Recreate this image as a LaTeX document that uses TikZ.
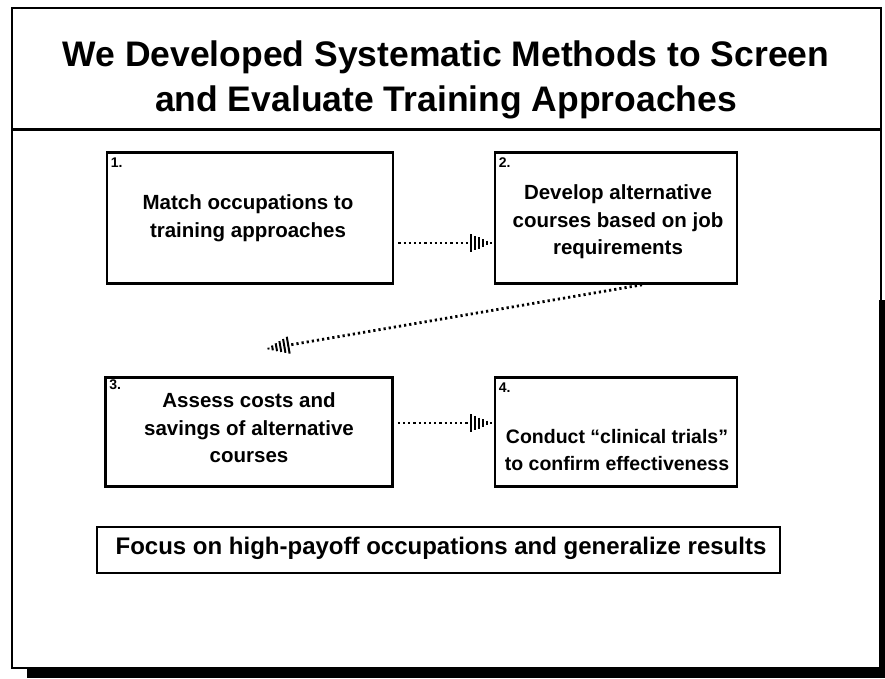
\documentclass[tikz,border=0pt]{standalone}
\usepackage{fontspec}
\setmainfont{Liberation Sans}
\usetikzlibrary{decorations.markings}
\tikzset{
  x=1pt, y=-1pt,
  stepbox/.style={draw, line width=2.6pt, inner sep=0pt},
  boxtext/.style={align=center, font=\fontsize{20.5}{27.5}\selectfont\bfseries},
  numlabel/.style={anchor=north west, inner sep=0pt, font=\fontsize{14}{14}\selectfont\bfseries},
  dotline/.style={line width=2.8pt, dash pattern=on 2.2pt off 3pt, shorten >=22pt},
  hatchtip/.style={decoration={markings, mark=at position 1 with {
      \foreach \k in {1,...,6}{
        \pgfmathsetmacro{\xx}{-4*\k+1.5}
        \pgfmathsetmacro{\hh}{0.38*(4*\k-1.5)}
        \draw[line width=2pt] (\xx pt,\hh pt) -- (\xx pt,-\hh pt);
      }}}, decorate}
}
\begin{document}
\begin{tikzpicture}
\useasboundingbox (0,0) rectangle (885,678);
% shadow
\fill (27,669) rectangle (885,678);
\fill (879,300) rectangle (885,678);
% outer frame
\draw[line width=2pt] (12,8) rectangle (881,668);
\draw[line width=3pt] (12,129) -- (881,129);
\node[font=\fontsize{35.5}{45}\selectfont\bfseries, align=center] (title) at (446,80)
  {We Developed Systematic Methods to Screen\\and Evaluate Training Approaches};
% boxes
\node[stepbox, minimum width=286pt, minimum height=131pt] (b1) at (250,218) {};
\node[stepbox, minimum width=242pt, minimum height=131pt] (b2) at (616,218) {};
\node[stepbox, minimum width=287pt, minimum height=109pt] (b3) at (249,432) {};
\node[stepbox, minimum width=242pt, minimum height=109pt] (b4) at (616,432) {};
\node[stepbox, minimum width=683pt, minimum height=46pt] (b5) at (438.5,550) {};
% numbers
\node[numlabel] (n1) at ([xshift=5pt,yshift=-6pt]b1.north west) {1.};
\node[numlabel] (n2) at ([xshift=5pt,yshift=-6pt]b2.north west) {2.};
\node[numlabel] (n3) at ([xshift=5pt,yshift=-3pt]b3.north west) {3.};
\node[numlabel] (n4) at ([xshift=5pt,yshift=-6pt]b4.north west) {4.};
% texts
\node[boxtext] (t1) at (248,218) {Match occupations to\\training approaches};
\node[boxtext] (t2) at (618,222) {Develop alternative\\courses based on job\\requirements};
\node[boxtext] (t3) at (249,428) {Assess costs and\\savings of alternative\\courses};
\node[boxtext, font=\fontsize{19.5}{27}\selectfont\bfseries] (t4) at (617,450) {Conduct “clinical trials”\\to confirm effectiveness};
\node[font=\fontsize{24}{26}\selectfont\bfseries] (t5) at (441,548) {Focus on high-payoff occupations and generalize results};
% connectors
\coordinate (c3) at (266,349);
\draw[dotline] ([xshift=4pt,yshift=-25pt]b1.east) -- ([yshift=-25pt]b2.west);
\path[hatchtip] ([xshift=4pt,yshift=-25pt]b1.east) -- ([yshift=-25pt]b2.west);
\draw[dotline] ([xshift=4pt,yshift=9pt]b3.east) -- ([yshift=9pt]b4.west);
\path[hatchtip] ([xshift=4pt,yshift=9pt]b3.east) -- ([yshift=9pt]b4.west);
\draw[dotline] ([xshift=26pt]b2.south) -- (c3);
\path[hatchtip] ([xshift=26pt]b2.south) -- (c3);
\end{tikzpicture}
\end{document}
